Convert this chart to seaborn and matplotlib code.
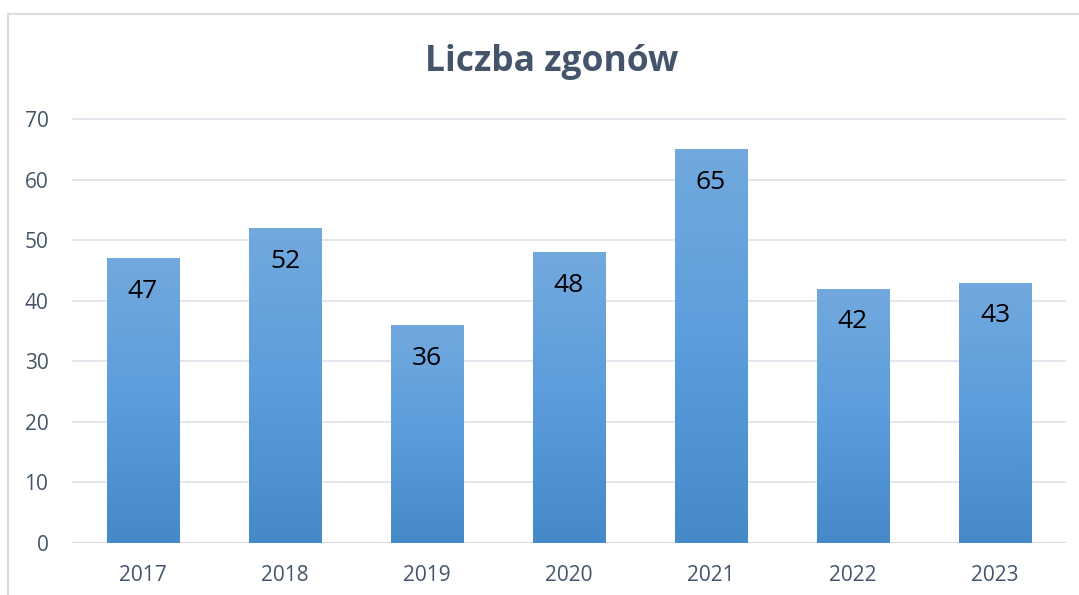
import numpy as np
import pandas as pd
import matplotlib
matplotlib.use("Agg")
import matplotlib.pyplot as plt
import seaborn as sns
from matplotlib.colors import LinearSegmentedColormap
from matplotlib.patches import Rectangle

# data
years = ["2017", "2018", "2019", "2020", "2021", "2022", "2023"]
deaths = [47, 52, 36, 48, 65, 42, 43]
y_ticks = [0, 10, 20, 30, 40, 50, 60, 70]

df = pd.DataFrame({"rok": years, "zgony": deaths})

sns.set_theme(style="white")
plt.rcParams["font.family"] = ["Open Sans", "DejaVu Sans"]

text_col = "#44546A"
grid_col = "#E1E4EA"

fig = plt.figure(figsize=(10.79, 5.95), dpi=100)
ax = fig.add_axes([72 / 1079, 1 - 543 / 595, (1066 - 72) / 1079, (543 - 119) / 595 * 80 / 70])

sns.barplot(data=df, x="rok", y="zgony", color="#5B9BD5", width=0.51, ax=ax, zorder=2)

ax.set_ylim(0, 80)
ax.set_xlim(-0.5, len(years) - 0.5)
ax.set_yticks(y_ticks)
ax.yaxis.grid(True, color=grid_col, linewidth=1.3, zorder=0)
ax.set_axisbelow(True)
for s in ax.spines.values():
    s.set_visible(False)
ax.axhline(0, color="#D5D9E0", linewidth=1.5, zorder=1)
ax.set_xlabel("")
ax.set_ylabel("")
ax.tick_params(axis="both", length=0, labelsize=15, labelcolor=text_col)
ax.tick_params(axis="y", pad=17)
ax.tick_params(axis="x", pad=16)

# gradient fill for bars
cmap = LinearSegmentedColormap.from_list("g", ["#4589C8", "#5B9DDC", "#72A9DE"])
grad = np.linspace(0, 1, 256).reshape(-1, 1)
for bar in ax.patches:
    x0, y0 = bar.get_x(), bar.get_y()
    w, h = bar.get_width(), bar.get_height()
    bar.set_facecolor("none")
    im = ax.imshow(grad, cmap=cmap, origin="lower", aspect="auto",
                   extent=[x0, x0 + w, y0, y0 + h], zorder=2)
    im.set_clip_path(bar)
    ax.text(x0 + w / 2, h - 5.5, str(int(h)), ha="center", va="center",
            fontsize=19, color="black", zorder=3)
ax.set_xlim(-0.5, len(years) - 0.5)
ax.set_ylim(0, 80)

fig.text(552 / 1079, 1 - 62 / 595, "Liczba zgonów", ha="center", va="center",
         fontsize=25.5, fontweight="bold", color=text_col)

# chart frame
fig.patches.append(Rectangle((8 / 1079, -0.05), 1.2, 1 - 14 / 595 + 0.05,
                             transform=fig.transFigure, fill=False,
                             edgecolor="#D9DDE3", linewidth=1.5))

plt.savefig("out.png", dpi=100)
